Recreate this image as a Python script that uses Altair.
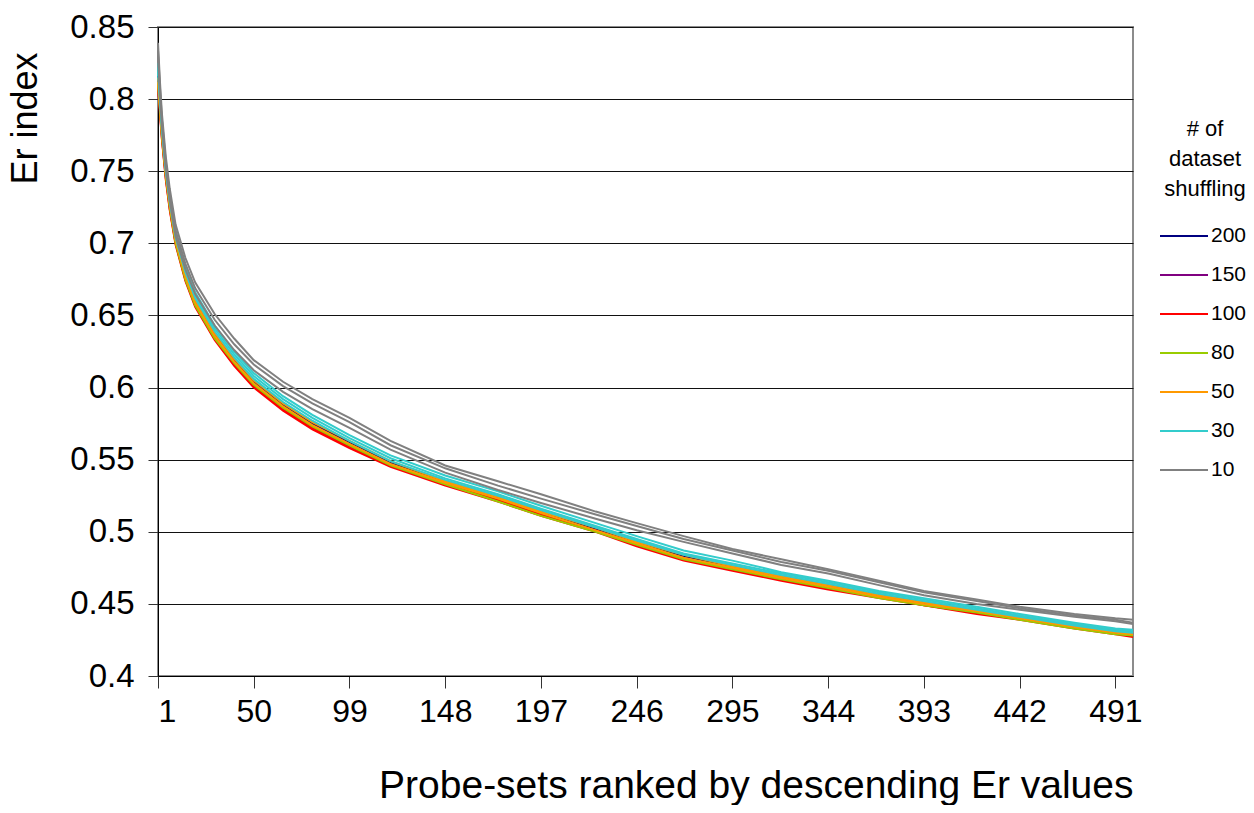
import altair as alt
import pandas as pd

RANKS = [1, 2, 3, 5, 7, 10, 15, 20, 30, 40, 50, 65, 80, 99, 120, 148, 175, 197,
         225, 246, 270, 295, 320, 344, 370, 393, 420, 442, 470, 491, 500]

SHUFFLING = ["200", "150", "100", "80", "50", "30", "10"]
COLORS = ["#000080", "#800080", "#FF0000", "#99CC00", "#FF9900", "#33CCCC", "#808080"]

navy_1 = [0.816, 0.797, 0.778, 0.749, 0.728, 0.703, 0.678, 0.660, 0.637, 0.619, 0.604, 0.588, 0.575, 0.562, 0.548, 0.535, 0.524, 0.514, 0.502, 0.493, 0.483, 0.476, 0.469, 0.463, 0.456, 0.451, 0.445, 0.441, 0.435, 0.431, 0.430]
purple_1 = [0.814, 0.795, 0.776, 0.747, 0.726, 0.701, 0.676, 0.658, 0.635, 0.617, 0.602, 0.586, 0.573, 0.560, 0.546, 0.533, 0.522, 0.512, 0.501, 0.491, 0.482, 0.474, 0.467, 0.461, 0.455, 0.450, 0.444, 0.440, 0.434, 0.430, 0.429]
red_1 = [0.808, 0.790, 0.772, 0.744, 0.723, 0.699, 0.674, 0.656, 0.633, 0.615, 0.600, 0.584, 0.571, 0.558, 0.545, 0.532, 0.521, 0.511, 0.500, 0.490, 0.480, 0.473, 0.466, 0.460, 0.454, 0.449, 0.443, 0.439, 0.433, 0.429, 0.427]
red_2 = [0.810, 0.792, 0.773, 0.745, 0.724, 0.700, 0.675, 0.657, 0.634, 0.616, 0.601, 0.585, 0.572, 0.559, 0.546, 0.533, 0.522, 0.512, 0.501, 0.491, 0.481, 0.474, 0.467, 0.461, 0.455, 0.449, 0.444, 0.440, 0.434, 0.430, 0.428]
green_1 = [0.811, 0.793, 0.774, 0.746, 0.725, 0.700, 0.675, 0.657, 0.634, 0.617, 0.602, 0.586, 0.573, 0.560, 0.546, 0.533, 0.521, 0.511, 0.500, 0.491, 0.481, 0.474, 0.467, 0.461, 0.454, 0.449, 0.444, 0.439, 0.433, 0.429, 0.428]
orange_1 = [0.815, 0.796, 0.777, 0.748, 0.727, 0.702, 0.677, 0.659, 0.636, 0.618, 0.603, 0.587, 0.574, 0.561, 0.547, 0.534, 0.523, 0.513, 0.501, 0.492, 0.482, 0.475, 0.468, 0.462, 0.455, 0.450, 0.445, 0.440, 0.434, 0.430, 0.429]
orange_2 = [0.812, 0.794, 0.776, 0.749, 0.729, 0.704, 0.679, 0.661, 0.638, 0.620, 0.605, 0.589, 0.576, 0.563, 0.549, 0.535, 0.524, 0.514, 0.503, 0.493, 0.484, 0.476, 0.469, 0.463, 0.456, 0.451, 0.445, 0.441, 0.435, 0.431, 0.430]
cyan_1 = [0.825, 0.803, 0.783, 0.753, 0.732, 0.708, 0.684, 0.666, 0.643, 0.625, 0.610, 0.594, 0.581, 0.567, 0.553, 0.539, 0.528, 0.518, 0.506, 0.497, 0.487, 0.480, 0.472, 0.466, 0.459, 0.454, 0.448, 0.443, 0.437, 0.433, 0.432]
cyan_2 = [0.822, 0.801, 0.781, 0.751, 0.730, 0.706, 0.682, 0.664, 0.641, 0.623, 0.608, 0.592, 0.579, 0.565, 0.551, 0.537, 0.526, 0.516, 0.504, 0.495, 0.485, 0.478, 0.471, 0.465, 0.458, 0.453, 0.447, 0.442, 0.436, 0.432, 0.431]
cyan_3 = [0.819, 0.799, 0.779, 0.750, 0.729, 0.704, 0.680, 0.662, 0.639, 0.621, 0.606, 0.590, 0.577, 0.563, 0.549, 0.536, 0.525, 0.515, 0.503, 0.494, 0.484, 0.477, 0.470, 0.464, 0.457, 0.452, 0.446, 0.441, 0.435, 0.431, 0.430]
gray_1 = [0.839, 0.812, 0.790, 0.760, 0.738, 0.713, 0.690, 0.673, 0.651, 0.634, 0.619, 0.604, 0.592, 0.579, 0.563, 0.546, 0.535, 0.526, 0.514, 0.506, 0.497, 0.488, 0.481, 0.474, 0.466, 0.459, 0.453, 0.448, 0.443, 0.440, 0.439]
gray_2 = [0.834, 0.808, 0.786, 0.756, 0.734, 0.709, 0.686, 0.669, 0.647, 0.630, 0.616, 0.601, 0.589, 0.576, 0.560, 0.544, 0.532, 0.523, 0.512, 0.504, 0.495, 0.487, 0.479, 0.473, 0.465, 0.458, 0.452, 0.447, 0.442, 0.439, 0.437]
gray_3 = [0.830, 0.804, 0.782, 0.752, 0.730, 0.705, 0.682, 0.665, 0.643, 0.626, 0.612, 0.597, 0.585, 0.572, 0.557, 0.541, 0.529, 0.520, 0.509, 0.501, 0.493, 0.485, 0.477, 0.471, 0.463, 0.456, 0.450, 0.446, 0.441, 0.438, 0.436]

LINES = [
    ("200", "a", navy_1), ("150", "a", purple_1),
    ("100", "a", red_1), ("100", "b", red_2),
    ("80", "a", green_1),
    ("50", "a", orange_1), ("50", "b", orange_2),
    ("30", "a", cyan_1), ("30", "b", cyan_2), ("30", "c", cyan_3),
    ("10", "a", gray_1), ("10", "b", gray_2), ("10", "c", gray_3),
]

rows = []
order = 0
for shuf, run, vals in LINES:
    for r, v in zip(RANKS, vals):
        rows.append({"rank": r, "er": v, "shuffling": shuf, "line": f"{shuf}-{run}", "ord": order})
    order += 1
df = pd.DataFrame(rows)

FONT = "Liberation Sans"

chart = alt.Chart(df).mark_line(strokeWidth=2).encode(
    x=alt.X("rank:Q",
            scale=alt.Scale(domain=[1, 500], nice=False, zero=False),
            axis=alt.Axis(values=[1, 50, 99, 148, 197, 246, 295, 344, 393, 442, 491],
                          title="Probe-sets ranked by descending Er values",
                          titleAnchor="end", titleFontSize=39, titleFontWeight="normal",
                          titleBaseline="alphabetic", titleY=121,
                          labelFontSize=32, labelPadding=8, tickSize=12,
                          tickColor="#333333", domainColor="#000000", grid=False)),
    y=alt.Y("er:Q",
            scale=alt.Scale(domain=[0.4, 0.85], nice=False, zero=False),
            axis=alt.Axis(values=[0.4, 0.45, 0.5, 0.55, 0.6, 0.65, 0.7, 0.75, 0.8, 0.85],
                          format=".2~f", title="Er index",
                          titleFontSize=36, titleFontWeight="normal",
                          titleAngle=270, titleAlign="center", titleBaseline="alphabetic",
                          titleX=-122, titleY=91,
                          labelFontSize=33, labelPadding=14, tickSize=10,
                          tickColor="#333333", domainColor="#000000",
                          grid=True, gridColor="#111111", gridWidth=1)),
    color=alt.Color("shuffling:N",
                    scale=alt.Scale(domain=SHUFFLING, range=COLORS),
                    legend=alt.Legend(title=["# of", "dataset", "shuffling"],
                                      orient="none", legendX=1005, legendY=92,
                                      titleFontSize=22, titleFontWeight="normal",
                                      titleLineHeight=30, titleAlign="center",
                                      titleAnchor="middle", titlePadding=22,
                                      labelFontSize=21, labelOffset=14,
                                      symbolType="M-2,0H2", symbolSize=576,
                                      symbolOffset=8,
                                      symbolStrokeWidth=2, rowPadding=16)),
    detail="line:N",
    order="ord:Q",
).properties(
    width=975, height=649,
    autosize="none",
    padding={"left": 150, "top": 19, "right": 113, "bottom": 129},
).configure(font=FONT).configure_axis(
    labelColor="#000000", titleColor="#000000", labelFont=FONT, titleFont=FONT
).configure_legend(
    labelColor="#000000", titleColor="#000000", labelFont=FONT, titleFont=FONT
).configure_view(stroke="#8c8c8c", strokeWidth=2)

chart.save("out.html", embed_options={"renderer": "svg", "actions": False})
